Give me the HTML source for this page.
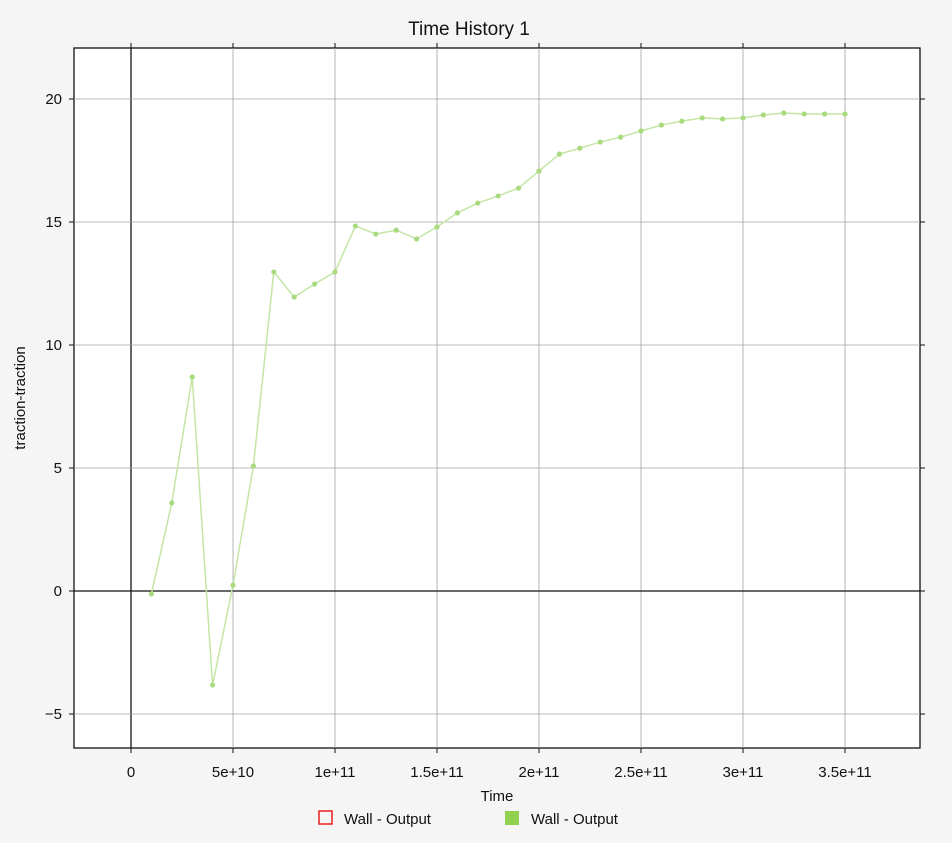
<!DOCTYPE html>
<html><head><meta charset="utf-8"><style>
body{margin:0;background:#f5f5f5;font-family:"Liberation Sans",sans-serif;}
svg text{font-family:"Liberation Sans",sans-serif;fill:#111;}
</style></head><body>
<svg id="chart" width="952" height="838">
<rect x="0" y="0" width="952" height="838" fill="#f5f5f5"/>
<text x="469" y="35" font-size="19" text-anchor="middle">Time History 1</text>
<rect x="74" y="48" width="846" height="700" fill="#fff" stroke="#111" stroke-width="1.3"/>
<g id="grid"></g><g id="series"></g>
<text x="497" y="801" font-size="15" text-anchor="middle">Time</text>
<text x="25" y="398" font-size="15" text-anchor="middle" transform="rotate(-90 25 398)">traction-traction</text>
<g>
<g><rect x="319" y="811" width="13" height="13" fill="none" stroke="#e8201f" stroke-width="1.5"/><text x="344" y="824" font-size="15">Wall - Output</text></g>
<g><rect x="505" y="811" width="14" height="14" fill="#92d050"/><text x="531" y="824" font-size="15">Wall - Output</text></g>
</g>
</svg>
<script>
const xValues=[1,2,3,4,5,6,7,8,9,10,11,12,13,14,15,16,17,18,19,20,21,22,23,24,25,26,27,28,29,30,31,32,33,34,35];
const yValues=[-0.12,3.58,8.7,-3.82,0.24,5.08,12.97,11.95,12.48,12.97,14.84,14.51,14.67,14.31,14.8,15.37,15.77,16.06,16.38,17.07,17.76,18.0,18.25,18.45,18.7,18.94,19.1,19.23,19.19,19.23,19.35,19.43,19.39,19.39,19.39];
const xTicks=[0,5,10,15,20,25,30,35];
const xTickLabels=["0","5e+10","1e+11","1.5e+11","2e+11","2.5e+11","3e+11","3.5e+11"];
const yTicks=[-5,0,5,10,15,20];
const yTickLabels=["\u22125","0","5","10","15","20"];
const X0=74,X1=920,Y0=748,Y1=48,xmin=-2.794,xmax=38.676,ymin=-6.382,ymax=22.073;
function sx(v){return X0+(v-xmin)/(xmax-xmin)*(X1-X0);}
function sy(v){return Y0-(v-ymin)/(ymax-ymin)*(Y0-Y1);}
const NS="http://www.w3.org/2000/svg";
function mk(t,a,p){const e=document.createElementNS(NS,t);for(const k in a)e.setAttribute(k,a[k]);p.appendChild(e);return e;}
const g=document.getElementById('grid'),s=document.getElementById('series');
xTicks.forEach((v,i)=>{const x=sx(v);
 const l=mk('line',{x1:x,x2:x,y1:Y1,y2:Y0,stroke:v===0?'#111':'#a3a3a3','stroke-width':v===0?1.3:0.8},g);
 
 
 mk('line',{x1:x,x2:x,y1:Y0,y2:Y0+5,stroke:'#111'},g);mk('line',{x1:x,x2:x,y1:Y1,y2:Y1-5,stroke:'#111'},g);
 const t=mk('text',{x:x,y:Y0+29,'font-size':15,'text-anchor':'middle'},g);t.textContent=xTickLabels[i];
 
 });
yTicks.forEach((v,i)=>{const y=sy(v);
 const l=mk('line',{x1:X0,x2:X1,y1:y,y2:y,stroke:v===0?'#111':'#a3a3a3','stroke-width':v===0?1.3:0.8},g);
 
 
 mk('line',{x1:X0-5,x2:X0,y1:y,y2:y,stroke:'#111'},g);mk('line',{x1:X1,x2:X1+5,y1:y,y2:y,stroke:'#111'},g);
 const t=mk('text',{x:X0-12,y:y+5,'font-size':15,'text-anchor':'end'},g);t.textContent=yTickLabels[i];
 
 });
const pts=xValues.map((v,i)=>sx(v)+','+sy(yValues[i])).join(' ');
const pl=mk('polyline',{points:pts,fill:'none',stroke:'#c3e6a6','stroke-width':1.5},s);


xValues.forEach((v,i)=>{const c=mk('circle',{cx:sx(v),cy:sy(yValues[i]),r:2.6,fill:'#a9da7e'},s);
 
 });
</script>
</body></html>
